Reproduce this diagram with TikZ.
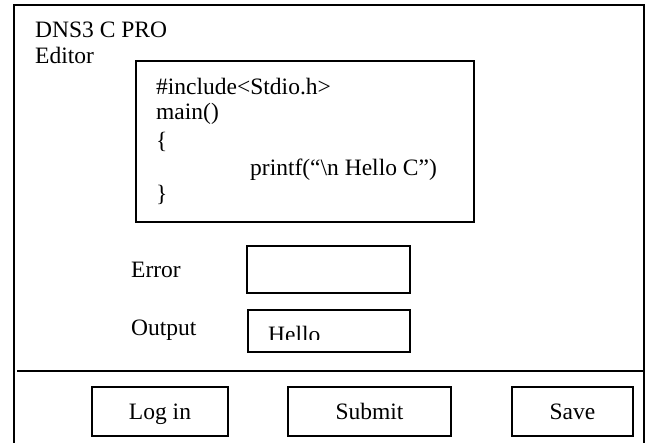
\documentclass[tikz,border=0pt]{standalone}
\usepackage{fontspec}
\setmainfont{Liberation Serif}
\begin{document}
\begin{tikzpicture}[x=1pt,y=-1pt,
  every node/.style={font=\fontsize{23.5}{25}\selectfont, inner sep=0pt},
  txt/.style={anchor=base west},
  panel/.style={draw, line width=1.6pt, anchor=north west},
  btn/.style={draw, line width=1.6pt, minimum width=136pt, minimum height=49pt,
    text height=19pt, text depth=2pt}]
\useasboundingbox (0,0) rectangle (649,443);

% outer window frame (open at the bottom)
\draw[line width=2.2pt] (14,445) -- (14,5) -- (644,5) -- (644,445);
% divider above the button bar
\coordinate (divL) at (17,371);
\coordinate (divR) at (644,371);
\draw[line width=2pt] (divL) -- (divR);

% title
\node[txt] (title) at (35,38) {DNS3 C PRO};
\node[txt] (editor) at (35,64) {Editor};

% code editor panel
\node[panel, minimum width=338pt, minimum height=161pt] (code) at (135,60) {};
\node[txt] (l1) at (156,95) {\#include<Stdio.h>};
\node[txt] (l2) at (156,120) {main()};
\node[txt] (l3) at (156,149) {\{};
\node[txt] (l4) at (250,176) {printf(“\textbackslash n Hello C”)};
\node[txt] (l5) at (156,202) {\}};

% error field
\node[txt] (errlbl) at (131,278) {Error};
\node[panel, minimum width=163pt, minimum height=47pt] (errbox) at (246,245) {};

% output field
\node[txt] (outlbl) at (131,336) {Output};
\node[panel, minimum width=162pt, minimum height=42pt] (outbox) at (247,309) {};
\begin{scope}
  \clip (250,312) rectangle (406,340);
  \node[txt] (hello) at (268,343) {Hello};
\end{scope}

% buttons
\node[btn] (login) at (160,411.5) {Log in};
\node[btn, minimum width=163pt] (submit) at (369.5,411.5) {Submit};
\node[btn, minimum width=121pt] (save) at (572.5,411.5) {Save};
\end{tikzpicture}
\end{document}
